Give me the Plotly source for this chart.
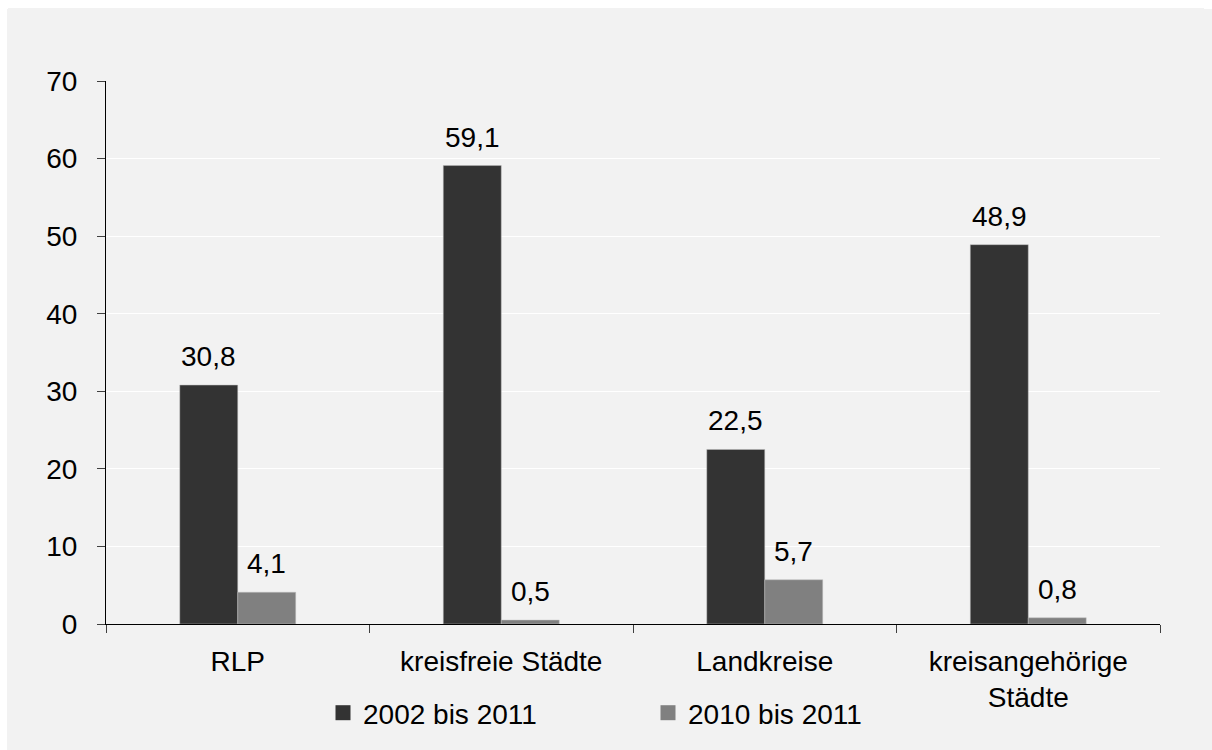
import plotly.graph_objects as go

categories = ["RLP", "kreisfreie Städte", "Landkreise", "kreisangehörige<br>Städte"]
series_names = ["2002 bis 2011", "2010 bis 2011"]
values_2002_2011 = [30.8, 59.1, 22.5, 48.9]
values_2010_2011 = [4.1, 0.5, 5.7, 0.8]
colors = ["#333333", "#808080"]

FONT = "Liberation Sans"
OFF = 8  # page body margin (top/left)
W, H = 1212 - OFF, 750 - OFF
ML, MT = 106 - OFF, 81 - OFF
MR = OFF + W - 1160
MB = OFF + H - 624
PW = W - ML - MR
PH = H - MT - MB

fig = go.Figure()
for name, vals, col in zip(series_names, [values_2002_2011, values_2010_2011], colors):
    fig.add_trace(go.Bar(
        x=categories, y=vals, name=name, showlegend=False,
        marker=dict(color=col, line=dict(color="rgba(190,190,190,0.8)", width=0.6)),
    ))
# legend entries with larger square keys
for name, col in zip(series_names, colors):
    fig.add_trace(go.Scatter(
        x=[None], y=[None], name=name, mode="markers",
        marker=dict(symbol="square", size=15, color=col),
    ))

# data labels
shift = 29
for vals, xs in [(values_2002_2011, -shift), (values_2010_2011, shift)]:
    for c, v in zip(categories, vals):
        fig.add_annotation(
            x=c, y=v, text=f"{v:.1f}".replace(".", ","), showarrow=False,
            xshift=xs, yshift=11, yanchor="bottom",
            font=dict(family=FONT, size=28, color="#000000"),
        )

fig.update_layout(
    width=W, height=H,
    margin=dict(l=ML, r=MR, t=MT, b=MB, pad=0),
    paper_bgcolor="#f2f2f2",
    plot_bgcolor="#f2f2f2",
    barmode="group",
    bargap=0.56,
    bargroupgap=0,
    separators=",.",
    font=dict(family=FONT, size=28, color="#000000"),
    showlegend=True,
    legend=dict(
        orientation="h", x=(323 - ML - OFF) / PW, xanchor="left",
        y=-(713 - 624) / PH, yanchor="middle",
        entrywidth=280, entrywidthmode="pixels",
        bgcolor="rgba(0,0,0,0)",
        font=dict(family=FONT, size=28, color="#000000"),
    ),
    xaxis=dict(
        showline=True, linecolor="#000000", linewidth=1,
        ticks="outside", tickson="boundaries", ticklen=8, tickcolor="#404040",
        showgrid=False, ticklabelstandoff=12,
        tickfont=dict(family=FONT, size=28, color="#000000"),
    ),
    yaxis=dict(
        range=[0, 70], dtick=10, showline=True, linecolor="#000000", linewidth=1,
        ticks="outside", ticklen=8, tickcolor="#404040",
        showgrid=True, gridcolor="#ffffff", gridwidth=1,
        zeroline=False, ticklabelstandoff=14,
        tickfont=dict(family=FONT, size=28, color="#000000"),
    ),
)

fig.write_html(
    "out.html",
    post_script=(
        "document.documentElement.style.background="
        "'linear-gradient(to right, #ffffff 7px, rgba(0,0,0,0) 7px), "
        "linear-gradient(to bottom, #ffffff 9px, #f2f2f2 9px)';"
    ),
)
